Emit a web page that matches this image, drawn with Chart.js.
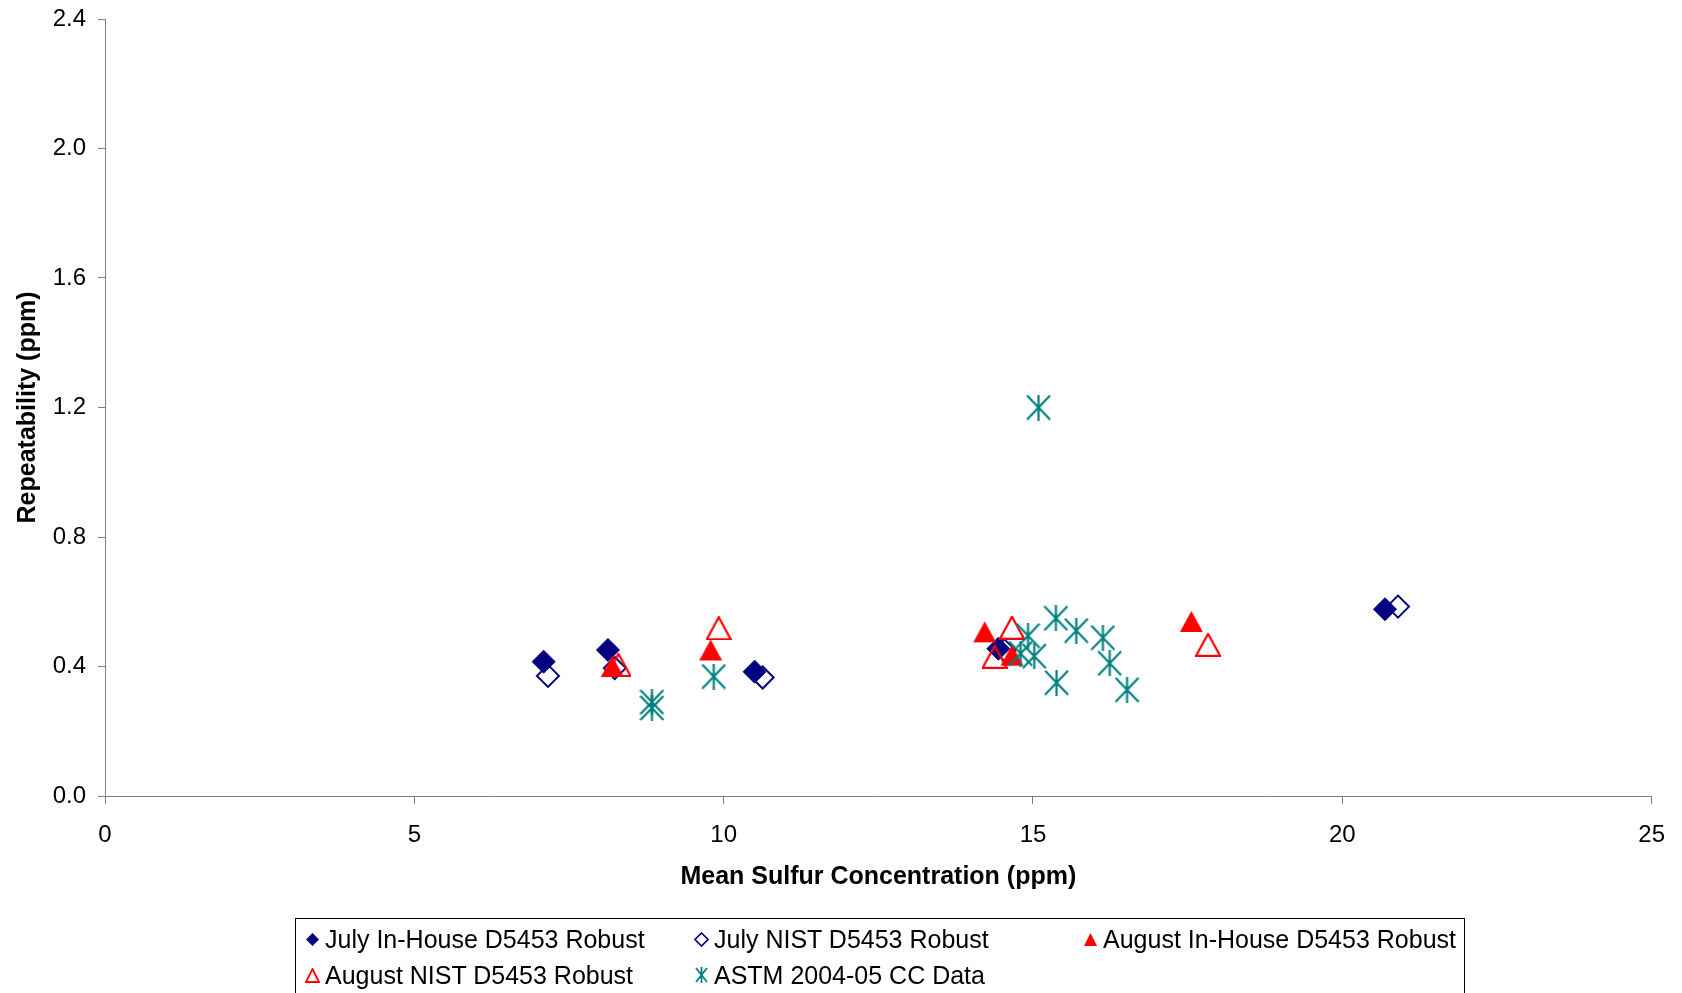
<!DOCTYPE html>
<html>
<head>
<meta charset="utf-8">
<title>Repeatability vs Mean Sulfur Concentration</title>
<script src="https://cdn.jsdelivr.net/npm/chart.js@4.4.0/dist/chart.umd.min.js"></script>
<style>
    body { margin: 0; background: #fff; }
    #wrap { position: relative; width: 1682px; height: 993px; overflow: hidden; }
    #legend {
        position: absolute; left: 295px; top: 918px; width: 1170px; height: 90px;
        border: 1px solid #000; box-sizing: border-box;
        font-family: Arial, "Liberation Sans", sans-serif; font-size: 25px; color: #000;
    }
    .item { position: absolute; height: 30px; line-height: 30px; white-space: nowrap; }
    .item canvas { position: absolute; left: 0; top: 7px; }
    .item span { position: absolute; left: 0; top: 0; }
</style>
</head>
<body>
<div id="wrap">
    <canvas id="chart" width="1682" height="993"></canvas>
    <div id="legend"></div>
</div>
<script>
// values
const xTicks = [0, 5, 10, 15, 20, 25];
const yTicks = [0, 0.4, 0.8, 1.2, 1.6, 2.0, 2.4];

const julyInHouseX = [7.09, 8.13, 10.50, 14.44, 20.69];
const julyInHouseY = [0.415, 0.451, 0.384, 0.455, 0.577];

const julyNistX = [7.16, 8.24, 10.63, 14.54, 20.90];
const julyNistY = [0.371, 0.395, 0.366, 0.450, 0.585];

const augInHouseX = [8.20, 9.79, 14.22, 14.66, 17.56];
const augInHouseY = [0.400, 0.451, 0.507, 0.435, 0.539];

const augNistX = [8.30, 9.92, 14.66, 14.38, 17.83];
const augNistY = [0.405, 0.518, 0.520, 0.430, 0.467];

const astmX = [8.84, 8.84, 9.84, 15.09, 14.92, 14.80, 15.02, 15.37, 15.70, 16.13, 16.24, 15.38, 16.52];
const astmY = [0.290, 0.272, 0.369, 1.200, 0.495, 0.440, 0.432, 0.549, 0.511, 0.489, 0.410, 0.350, 0.328];

const navy = '#000080';
const red = '#ff0000';
const teal = '#008080';

Chart.defaults.font.family = 'Arial, "Liberation Sans", sans-serif';

function toPoints(xs, ys) {
    return xs.map((x, i) => ({ x: x, y: ys[i] }));
}

function markerCanvas(w, h, draw) {
    const c = document.createElement('canvas');
    c.width = w;
    c.height = h;
    draw(c.getContext('2d'), w, h);
    return c;
}

function diamond(size, filled) {
    return markerCanvas(size, size, (ctx, w, h) => {
        ctx.beginPath();
        ctx.moveTo(w / 2, 1);
        ctx.lineTo(w - 1, h / 2);
        ctx.lineTo(w / 2, h - 1);
        ctx.lineTo(1, h / 2);
        ctx.closePath();
        if (filled) {
            ctx.fillStyle = navy;
            ctx.fill();
        } else {
            ctx.strokeStyle = navy;
            ctx.lineWidth = 1.6;
            ctx.stroke();
        }
    });
}

function triangle(w, h, filled, lw) {
    return markerCanvas(w, h, (ctx) => {
        ctx.beginPath();
        ctx.moveTo(w / 2, 1);
        ctx.lineTo(w - 1, h - 1);
        ctx.lineTo(1, h - 1);
        ctx.closePath();
        if (filled) {
            ctx.fillStyle = red;
            ctx.fill();
        } else {
            ctx.strokeStyle = red;
            ctx.lineWidth = lw;
            ctx.lineJoin = 'miter';
            ctx.stroke();
        }
    });
}

function asterisk(w, h, lw) {
    return markerCanvas(w, h, (ctx) => {
        ctx.strokeStyle = teal;
        ctx.lineWidth = lw;
        ctx.beginPath();
        ctx.moveTo(w / 2, 0);
        ctx.lineTo(w / 2, h);
        ctx.moveTo(1, 1);
        ctx.lineTo(w - 1, h - 1);
        ctx.moveTo(w - 1, 1);
        ctx.lineTo(1, h - 1);
        ctx.stroke();
    });
}

const series = [
    { label: 'July In-House D5453 Robust', xs: julyInHouseX, ys: julyInHouseY,
      style: 'rectRot', radius: 11.5, bg: navy, border: navy, bw: 1, icon: diamond(15, true) },
    { label: 'July NIST D5453 Robust', xs: julyNistX, ys: julyNistY,
      style: 'rectRot', radius: 11, bg: 'rgba(0,0,0,0)', border: navy, bw: 2, icon: diamond(15, false) },
    { label: 'August In-House D5453 Robust', xs: augInHouseX, ys: augInHouseY,
      style: triangle(25, 23, true, 0), radius: 12, icon: triangle(15, 15, true, 0) },
    { label: 'August NIST D5453 Robust', xs: augNistX, ys: augNistY,
      style: triangle(26, 24, false, 2.2), radius: 12, icon: triangle(15, 15, false, 1.8) },
    { label: 'ASTM 2004-05 CC Data', xs: astmX, ys: astmY,
      style: asterisk(25, 26, 2.2), radius: 12, icon: asterisk(13, 16, 1.8) }
];

// Excel draws later series on top
const datasets = series.map((s, i) => ({
    label: s.label,
    data: toPoints(s.xs, s.ys),
    pointStyle: s.style,
    pointRadius: s.radius,
    pointBackgroundColor: s.bg || teal,
    pointBorderColor: s.border || teal,
    pointBorderWidth: s.bw || 1,
    order: series.length - i
}));

new Chart(document.getElementById('chart').getContext('2d'), {
    type: 'scatter',
    data: { datasets: datasets },
    options: {
        responsive: false,
        animation: false,
        layout: { padding: { left: 0, right: 30, top: 19, bottom: 101 } },
        plugins: {
            legend: { display: false },
            tooltip: { enabled: false }
        },
        scales: {
            x: {
                type: 'linear',
                min: xTicks[0],
                max: xTicks[xTicks.length - 1],
                afterBuildTicks: (scale) => { scale.ticks = xTicks.map(v => ({ value: v })); },
                afterFit: (scale) => { scale.height = 96; },
                grid: { drawOnChartArea: false, tickLength: 8, color: '#808080' },
                border: { color: '#808080', width: 1 },
                ticks: { color: '#000', padding: 17, maxRotation: 0, font: { size: 24 } },
                title: {
                    display: true,
                    text: 'Mean Sulfur Concentration (ppm)',
                    color: '#000',
                    font: { size: 25, weight: 'bold' },
                    padding: { top: 0, bottom: 0 }
                }
            },
            y: {
                type: 'linear',
                min: yTicks[0],
                max: yTicks[yTicks.length - 1],
                afterBuildTicks: (scale) => { scale.ticks = yTicks.map(v => ({ value: v })); },
                afterFit: (scale) => {
                    scale.width = 105;
                    scale.paddingTop = 0;
                    scale.paddingBottom = 0;
                },
                grid: { drawOnChartArea: false, tickLength: 7, color: '#808080' },
                border: { color: '#808080', width: 1 },
                ticks: {
                    color: '#000',
                    padding: 12,
                    font: { size: 24 },
                    callback: (v) => Number(v).toFixed(1)
                },
                title: {
                    display: true,
                    text: 'Repeatability (ppm)',
                    color: '#000',
                    font: { size: 25, weight: 'bold' },
                    padding: { top: 13, bottom: 0 }
                }
            }
        }
    }
});

// legend box laid out like the original, three columns
const legendPos = [
    { left: 16, top: 21 }, { left: 405, top: 21 }, { left: 794, top: 21 },
    { left: 16, top: 57 }, { left: 405, top: 57 }
];
const legendBox = document.getElementById('legend');
series.forEach((s, i) => {
    const item = document.createElement('div');
    item.className = 'item';
    item.style.left = (legendPos[i].left - 8) + 'px';
    item.style.top = (legendPos[i].top - 16) + 'px';
    const icon = s.icon;
    icon.style.left = (8 - icon.width / 2) + 'px';
    icon.style.top = (15 - icon.height / 2) + 'px';
    item.appendChild(icon);
    const text = document.createElement('span');
    text.textContent = s.label;
    text.style.left = '21px';
    item.appendChild(text);
    legendBox.appendChild(item);
});
</script>
</body>
</html>
